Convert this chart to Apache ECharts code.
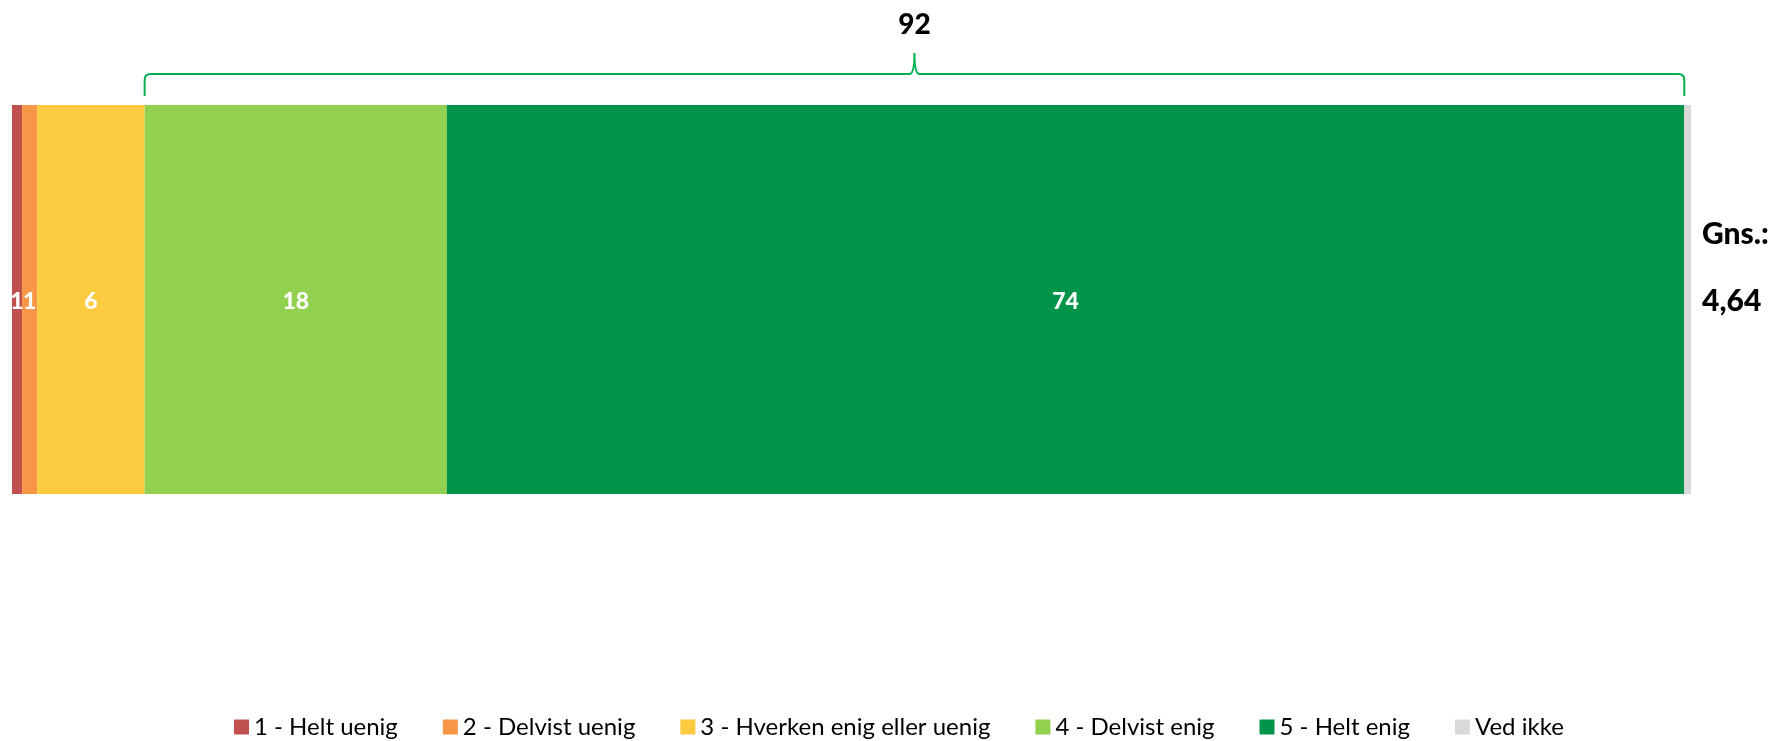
<!DOCTYPE html>
<html>
<head>
<meta charset="utf-8">
<script src="https://cdn.jsdelivr.net/npm/echarts@6/dist/echarts.min.js"></script>
<style>
html,body{margin:0;padding:0;background:#fff;}
#chart{width:1783px;height:741px;}
</style>
</head>
<body>
<div id="chart"></div>
<script>
// ---- data ----
const categories = ['Q1'];
const seriesNames = ['1 - Helt uenig', '2 - Delvist uenig', '3 - Hverken enig eller uenig', '4 - Delvist enig', '5 - Helt enig', 'Ved ikke'];
const seriesValues = [0.6, 0.9, 6.4, 18.0, 73.7, 0.4];
const showLabel = [true, true, true, true, true, false];
const braceFrom = 3;   // brace spans series index 3..4
const braceTo = 4;
const avgTitle = 'Gns.:';
const avgLabel = '4,64';

const colors = ['#C0504D', '#F79646', '#FCCB3F', '#92D050', '#02954A', '#D9D9D9'];
const total = seriesValues.reduce((a, b) => a + b, 0);

const cum = [];
let acc = 0;
seriesValues.forEach(v => { cum.push(acc); acc += v; });
const braceStart = cum[braceFrom];
const braceEnd = cum[braceTo] + seriesValues[braceTo];
let braceSum = 0;
for (let i = braceFrom; i <= braceTo; i++) braceSum += seriesValues[i];

const chart = echarts.init(document.getElementById('chart'), null, { renderer: 'canvas' });

const barSeries = seriesNames.map((name, i) => ({
  name: name,
  type: 'bar',
  stack: 'total',
  barWidth: '100%',
  itemStyle: { color: colors[i] },
  label: {
    show: showLabel[i],
    position: 'inside',
    color: '#fff',
    fontFamily: 'Lato',
    fontWeight: 900,
    fontSize: 23,
    offset: [0, 2],
    formatter: p => String(Math.round(p.value))
  },
  emphasis: { disabled: true },
  data: [seriesValues[i]]
}));

const braceSeries = {
  type: 'custom',
  silent: true,
  z: 10,
  encode: { x: [0, 1], y: 2 },
  data: [[braceStart, braceEnd, 0]],
  renderItem: function (params, api) {
    const p1 = api.coord([api.value(0), 0]);
    const p2 = api.coord([api.value(1), 0]);
    const band = api.size([0, 1])[1];
    const top = p1[1] - band / 2;
    const x1 = p1[0], x2 = p2[0], xm = (x1 + x2) / 2;
    const yh = top - 31, yb = top - 9, yp = top - 52, r = 6;
    const path = [
      'M', x1, yb,
      'L', x1, yh + r,
      'Q', x1, yh, x1 + r, yh,
      'L', xm - 5, yh,
      'Q', xm, yh, xm, yp,
      'Q', xm, yh, xm + 5, yh,
      'L', x2 - r, yh,
      'Q', x2, yh, x2, yh + r,
      'L', x2, yb
    ].join(' ');
    return {
      type: 'group',
      children: [
        {
          type: 'path',
          shape: { pathData: path },
          style: { fill: null, stroke: '#00B050', lineWidth: 2 }
        },
        {
          type: 'text',
          style: {
            text: String(Math.round(braceSum)),
            x: xm, y: top - 80,
            align: 'center', verticalAlign: 'middle',
            fontFamily: 'Lato', fontWeight: 900, fontSize: 28, fill: '#000'
          }
        }
      ]
    };
  }
};

chart.setOption({
  animation: false,
  color: colors,
  grid: { left: 12, right: 92, top: 105, bottom: 247, containLabel: false },
  xAxis: { type: 'value', min: 0, max: total, show: false },
  yAxis: { type: 'category', data: categories, show: false, inverse: true },
  legend: {
    data: seriesNames,
    left: 234,
    top: 715,
    padding: 0,
    icon: 'rect',
    itemWidth: 15,
    itemHeight: 15,
    itemGap: 45,
    selectedMode: false,
    textStyle: { fontFamily: 'Lato', fontSize: 24, color: '#000', lineHeight: 24 }
  },
  graphic: [
    {
      type: 'text', left: 1702, top: 219,
      style: { text: avgTitle, fontFamily: 'Lato', fontWeight: 900, fontSize: 30, fill: '#000' }
    },
    {
      type: 'text', left: 1702, top: 286,
      style: { text: avgLabel, fontFamily: 'Lato', fontWeight: 900, fontSize: 30, fill: '#000' }
    }
  ],
  series: barSeries.concat([braceSeries])
});
</script>
</body>
</html>
